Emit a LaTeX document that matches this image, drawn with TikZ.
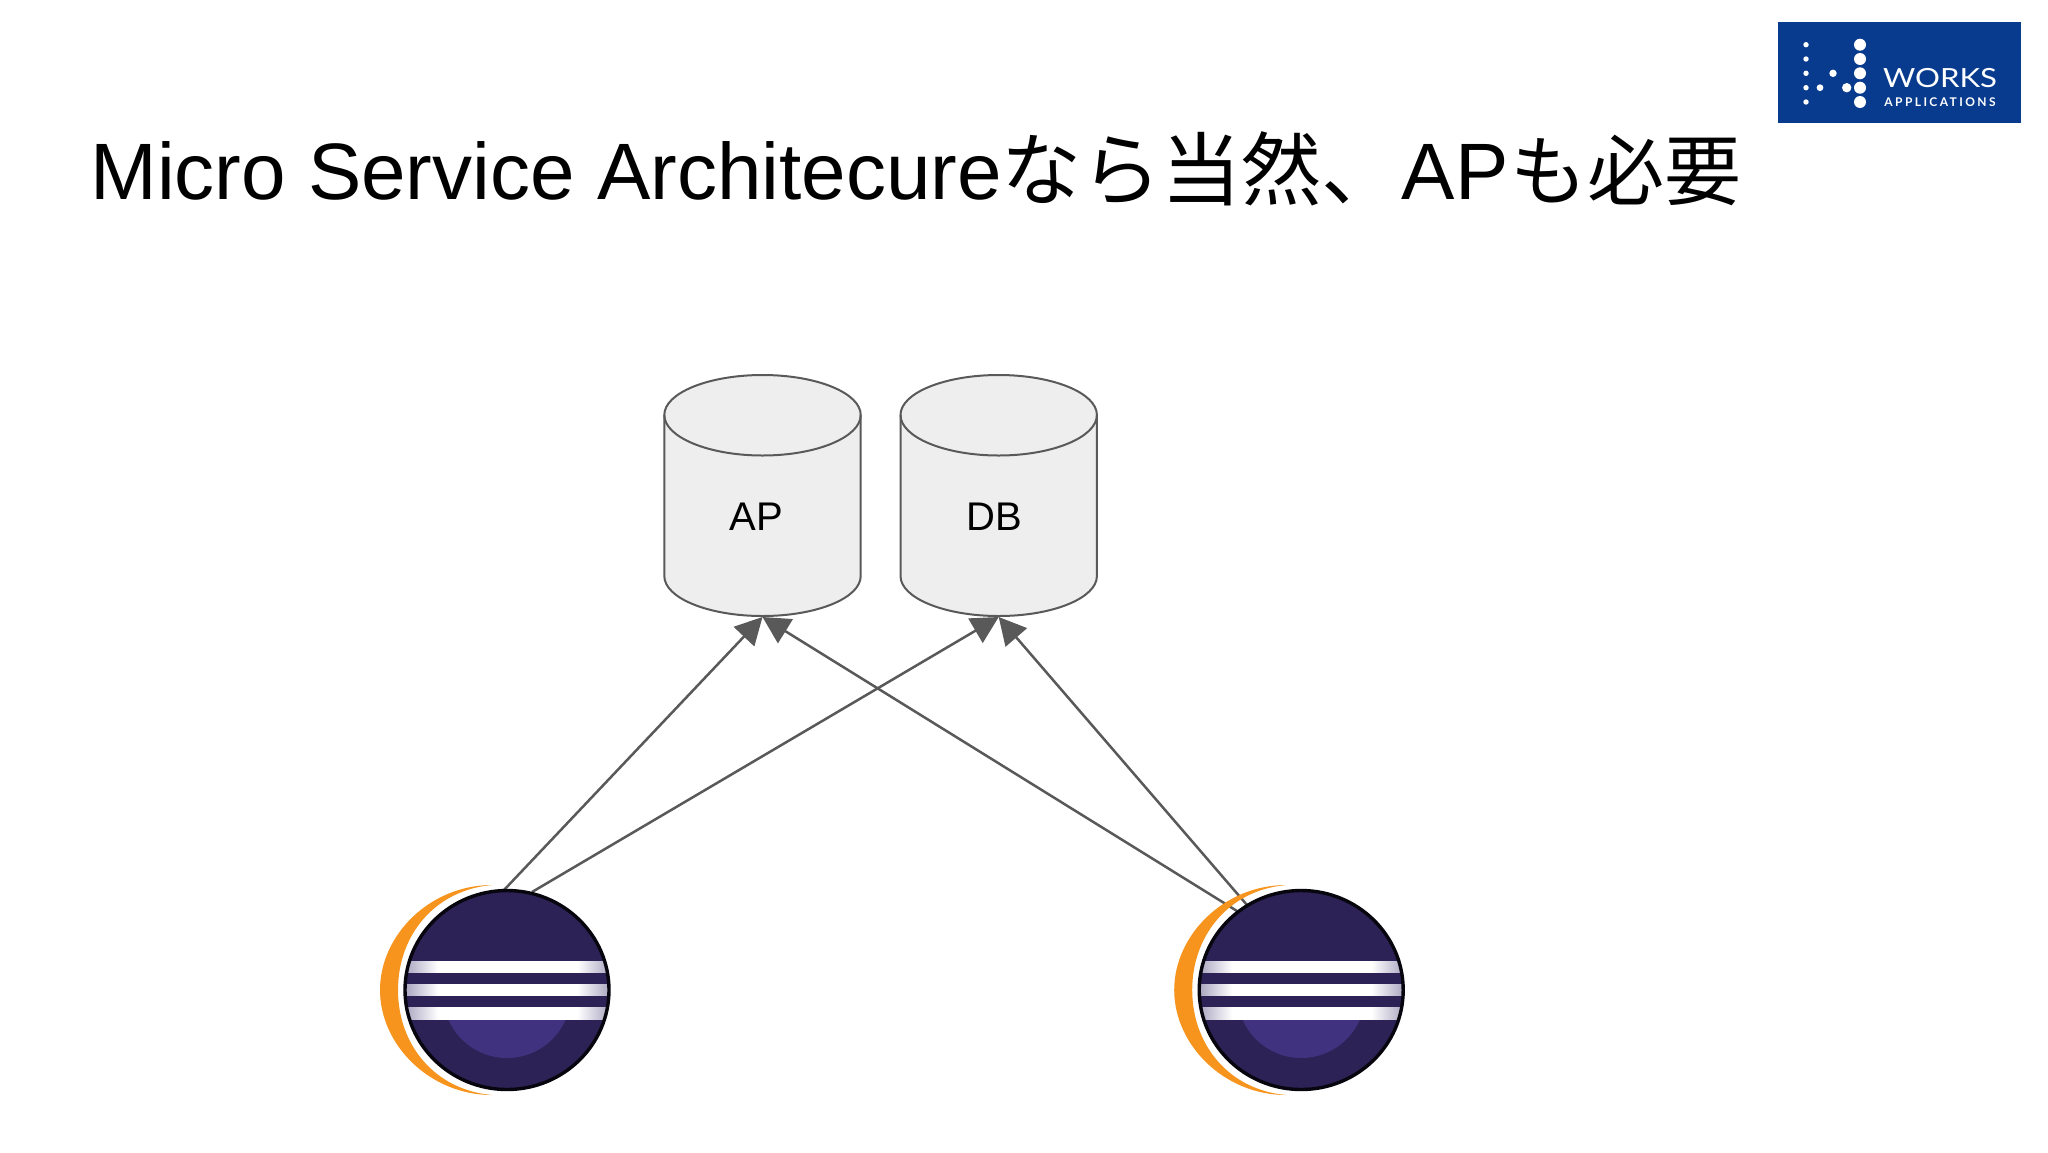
\documentclass[tikz,border=0pt]{standalone}
\usepackage{fontspec}
\setmainfont{Liberation Sans}
\newfontfamily\cjk{Noto Sans CJK JP}
\newfontfamily\logowords[FakeStretch=1.18]{Lato}
\newfontfamily\logosmall[LetterSpace=20]{Lato Bold}
\usetikzlibrary{arrows.meta}
\definecolor{linegray}{HTML}{595959}
\definecolor{cylfill}{HTML}{EEEEEE}
\definecolor{worksblue}{HTML}{083B8E}
\definecolor{eclorange}{HTML}{F7941E}
\definecolor{ecldark}{HTML}{2C2255}
\definecolor{eclglow}{HTML}{41327F}
\definecolor{eclfade}{HTML}{A9A5C0}
\pgfdeclarehorizontalshading{stripefade}{100bp}{
  color(0bp)=(eclfade); color(25bp)=(eclfade); color(33bp)=(white);
  color(67bp)=(white); color(75bp)=(eclfade); color(100bp)=(eclfade)}
\tikzset{
  cyllabel/.style={font=\fontsize{20}{24}\selectfont,text=black,inner sep=0pt},
  link/.style={draw=linegray,line width=1.25pt,-{Triangle[length=13.5pt,width=14pt]}},
  logodot/.style={fill=white,draw=none},
  pics/cyl/.style={code={
    % centred on x=0; top rim centre y=415, bottom rim centre y=576
    \filldraw[draw=linegray,fill=cylfill,line width=1pt]
      (-98.2,415) -- (-98.2,576)
      .. controls (-98.2,598) and (-54.2,616) .. (0,616)
      .. controls (54.2,616) and (98.2,598) .. (98.2,576)
      -- (98.2,415)
      .. controls (98.2,393) and (54.2,375) .. (0,375)
      .. controls (-54.2,375) and (-98.2,393) .. (-98.2,415) -- cycle;
    \draw[linegray,line width=1pt]
      (-98.2,415) .. controls (-98.2,437) and (-54.2,455.5) .. (0,455.5)
      .. controls (54.2,455.5) and (98.2,437) .. (98.2,415);
  }},
  pics/eclipse/.style={code={
    \fill[eclorange] (492,885) .. controls (430,885) and (380,935) .. (380,990)
       .. controls (380,1045) and (430,1095) .. (492,1095)
       .. controls (435,1090) and (398,1045) .. (398,990)
       .. controls (398,935) and (435,890) .. (492,885) -- cycle;
    \begin{scope}
      \clip (507,990) ellipse [x radius=102,y radius=99.5];
      \fill[ecldark] (400,885) rectangle (615,1095);
      \fill[eclglow] (507,994) circle [radius=64];
      \fill[ecldark] (400,900) rectangle (615,1013);
      \foreach \ya/\yb in {961/972.7,984.3/995.7,1007/1019}{
        \shade[shading=stripefade] (405,\ya) rectangle (610,\yb);
      }
    \end{scope}
    \draw[black!85!ecldark,line width=1.7pt] (507,990) ellipse [x radius=102,y radius=99.5];
  }}
}
\begin{document}
\begin{tikzpicture}[x=0.5pt,y=-0.5pt]
\useasboundingbox (0,0) rectangle (2048,1152);
\fill[white] (0,0) rectangle (2048,1152);

% title
\node[anchor=base west,inner sep=0pt,font=\fontsize{40}{48}\selectfont] (title) at (90,199.5)
  {Micro Service Architecure{\cjk なら当然、}AP\hspace{1pt}{\cjk\fontsize{38.5}{48}\selectfont も必要}};

% logo
\node[fill=worksblue,minimum width=121.5pt,minimum height=50.5pt,inner sep=0pt,outer sep=0pt] (logo) at (1899.5,72.5) {};
\foreach \py in {44.7,59,73.3,87.7,102}{
  \fill[logodot] (1806,\py) circle [radius=2.7];
  \fill[logodot] (1860,\py) circle [radius=6];
}
\fill[logodot] (1833,73.3) circle [radius=3.7];
\fill[logodot] (1820,87.7) circle [radius=3.4];
\fill[logodot] (1846.7,87.7) circle [radius=4.7];
\node[text=white,inner sep=0pt,font=\logowords\fontsize{13.2}{15}\selectfont] (works) at (1940,78) {WORKS};
\node[text=white,inner sep=0pt,font=\logosmall\fontsize{6}{7}\selectfont] (apps) at (1940,102) {APPLICATIONS};

% cylinders
\pic at (762.5,0) {cyl};
\pic at (998.7,0) {cyl};
\node[cyllabel] (aplabel) at (756.5,517) {AP};
\node[cyllabel] (dblabel) at (994,517) {DB};
\coordinate (ap) at (762.5,617);
\coordinate (db) at (998.7,617);

% eclipse logos
\coordinate (e1a) at (504,890);
\coordinate (e1b) at (532,892);
\coordinate (e2a) at (1237,911);
\coordinate (e2b) at (1247,905);
\draw[link] (e1a) -- (ap);
\draw[link] (e1b) -- (db);
\draw[link] (e2a) -- (ap);
\draw[link] (e2b) -- (db);
\pic at (0,0) {eclipse};
\pic at (794.2,0) {eclipse};
\end{tikzpicture}
\end{document}
